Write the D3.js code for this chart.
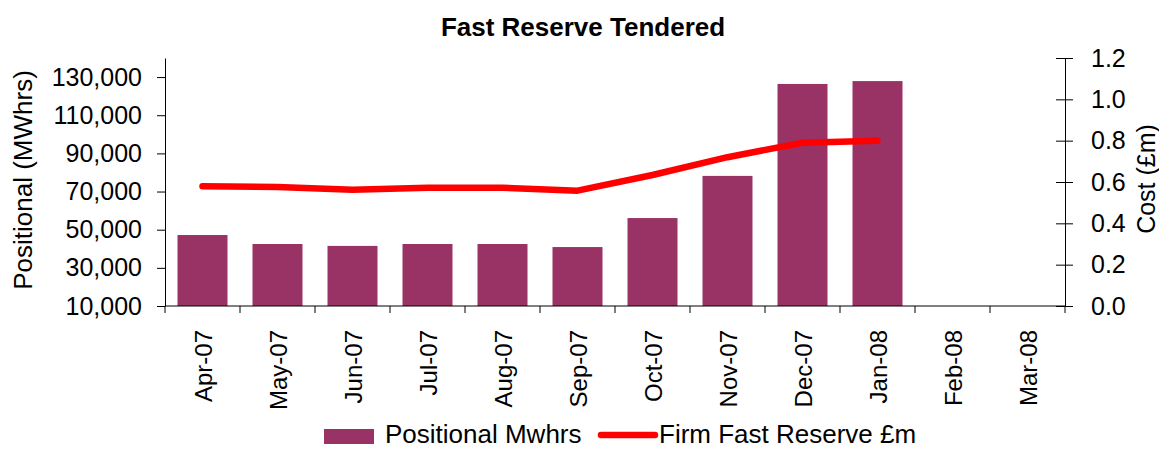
<!DOCTYPE html>
<html>
<head>
<meta charset="utf-8">
<script src="https://cdn.jsdelivr.net/npm/d3@7"></script>
<style>
  body { margin: 0; background: #fff; }
  text { font-family: Arial, "Liberation Sans", sans-serif; fill: #000; }
</style>
</head>
<body>
<svg id="viz" width="1159" height="449"></svg>
<script>
// Data
const months = ['Apr-07', 'May-07', 'Jun-07', 'Jul-07', 'Aug-07', 'Sep-07',
                'Oct-07', 'Nov-07', 'Dec-07', 'Jan-08', 'Feb-08', 'Mar-08'];
const positional = [47200, 42500, 41500, 42500, 42500, 40900,
                    56100, 78200, 126400, 127900, null, null];
const cost = [0.58, 0.576, 0.562, 0.572, 0.572, 0.558,
              0.634, 0.72, 0.79, 0.80, null, null];
const leftTicks  = [10000, 30000, 50000, 70000, 90000, 110000, 130000];
const rightTicks = [0, 0.2, 0.4, 0.6, 0.8, 1.0, 1.2];

const svg = d3.select('#viz');
const margin = { top: 58, right: 94, bottom: 143, left: 165 };
const width  = +svg.attr('width')  - margin.left - margin.right;
const height = +svg.attr('height') - margin.top  - margin.bottom;
const g = svg.append('g')
             .attr('transform', `translate(${margin.left},${margin.top})`);

const x = d3.scaleBand()
            .domain(months)
            .range([0, width])
            .paddingInner(1 / 3)
            .paddingOuter(1 / 6);

const yLeft = d3.scaleLinear()
                .domain([10000, 140000])
                .range([height, 0]);

const yRight = d3.scaleLinear()
                 .domain([0, 1.2])
                 .range([height, 0]);

// Bars
g.selectAll('.bar')
 .data(months.map((m, i) => ({ m, v: positional[i] })).filter(d => d.v != null))
 .join('rect')
   .attr('class', 'bar')
   .attr('x', d => x(d.m))
   .attr('y', d => yLeft(d.v))
   .attr('width', x.bandwidth())
   .attr('height', d => yLeft(10000) - yLeft(d.v))
   .attr('fill', '#993366');

// Cost line
const line = d3.line()
               .defined(d => d.v != null)
               .x(d => x(d.m) + x.bandwidth() / 2)
               .y(d => yRight(d.v));

g.append('path')
 .datum(months.map((m, i) => ({ m, v: cost[i] })))
 .attr('d', line)
 .attr('fill', 'none')
 .attr('stroke', '#ff0000')
 .attr('stroke-width', 6.5)
 .attr('stroke-linejoin', 'round')
 .attr('stroke-linecap', 'round');

// Bottom axis: ticks on category boundaries
const xAxis = g.append('g')
               .attr('transform', `translate(0,${height})`);
xAxis.append('line')
     .attr('x1', 0).attr('x2', width)
     .attr('stroke', '#000');
xAxis.selectAll('.xtick')
     .data(d3.range(months.length + 1))
     .join('line')
       .attr('x1', i => i * width / months.length)
       .attr('x2', i => i * width / months.length)
       .attr('y1', 0).attr('y2', 7)
       .attr('stroke', '#000');
xAxis.selectAll('.xlabel')
     .data(months)
     .join('text')
       .attr('transform', d => `translate(${x(d) + x.bandwidth() / 2 + 9},24) rotate(-90)`)
       .attr('text-anchor', 'end')
       .style('font-size', '24px')
       .text(d => d);

// Left axis
const leftAxis = g.append('g')
  .call(d3.axisLeft(yLeft)
          .tickValues(leftTicks)
          .tickFormat(d3.format(','))
          .tickSize(8)
          .tickPadding(15)
          .tickSizeOuter(0));
leftAxis.select('.domain').attr('stroke', '#000');
leftAxis.selectAll('text')
        .style('font-size', '25px')
        .style('font-family', 'Arial, "Liberation Sans", sans-serif');

// Right axis with crossing ticks
const rightAxis = g.append('g')
  .attr('transform', `translate(${width},0)`)
  .call(d3.axisRight(yRight)
          .tickValues(rightTicks)
          .tickFormat(d3.format('.1f'))
          .tickSize(8)
          .tickPadding(18)
          .tickSizeOuter(0));
rightAxis.selectAll('.tick line').attr('x1', -9);
rightAxis.selectAll('text')
         .style('font-size', '25px')
         .style('font-family', 'Arial, "Liberation Sans", sans-serif');

// Axis titles
svg.append('text')
   .attr('transform', `translate(32,180) rotate(-90)`)
   .attr('text-anchor', 'middle')
   .style('font-size', '26px')
   .text('Positional (MWhrs)');

svg.append('text')
   .attr('transform', `translate(1155,179) rotate(-90)`)
   .attr('text-anchor', 'middle')
   .style('font-size', '25px')
   .text('Cost (£m)');

// Title
svg.append('text')
   .attr('x', 583)
   .attr('y', 36)
   .attr('text-anchor', 'middle')
   .style('font-size', '26px')
   .style('font-weight', 'bold')
   .text('Fast Reserve Tendered');

// Legend
const legend = svg.append('g');
legend.append('rect')
      .attr('x', 324).attr('y', 429)
      .attr('width', 50).attr('height', 15)
      .attr('fill', '#993366');
legend.append('text')
      .attr('x', 385).attr('y', 443)
      .style('font-size', '26px')
      .text('Positional Mwhrs');
legend.append('line')
      .attr('x1', 601).attr('x2', 655)
      .attr('y1', 435).attr('y2', 435)
      .attr('stroke', '#ff0000')
      .attr('stroke-width', 6.5)
      .attr('stroke-linecap', 'round');
legend.append('text')
      .attr('x', 659).attr('y', 443)
      .style('font-size', '26px')
      .text('Firm Fast Reserve £m');
</script>
</body>
</html>
